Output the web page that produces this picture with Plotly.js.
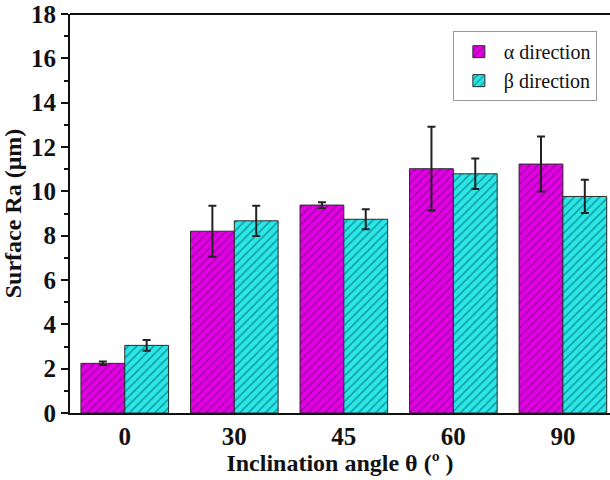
<!DOCTYPE html>
<html>
<head>
<meta charset="utf-8">
<script src="https://cdn.plot.ly/plotly-3.0.1.min.js"></script>
<style>
  html, body { margin: 0; padding: 0; background: #fff; }
  #chart { width: 610px; height: 480px; }
</style>
</head>
<body>
<div id="chart"></div>
<script>
// Inclination angles (degrees) shown as categories
const angles = ['0', '30', '45', '60', '90'];
const angleLabels = ['<b>0</b>', '<b>30</b>', '<b>45</b>', '<b>60</b>', '<b>90</b>'];

// Surface roughness Ra (µm) and standard deviations
const alphaRa  = [2.24, 8.20, 9.38, 11.02, 11.23];
const alphaErr = [0.08, 1.15, 0.13, 1.89, 1.24];
const betaRa   = [3.05, 8.67, 8.74, 10.79, 9.77];
const betaErr  = [0.24, 0.68, 0.45, 0.69, 0.75];

// y-axis ticks
const yTicks = [0, 2, 4, 6, 8, 10, 12, 14, 16, 18];
const yTickLabels = yTicks.map(v => '<b>' + v + '</b>');
const yMinor = [1, 3, 5, 7, 9, 11, 13, 15, 17];

const serif = 'Liberation Serif';

function series(name, y, err, fill, line) {
  return {
    type: 'bar',
    name: name,
    x: angles,
    y: y,
    error_y: { type: 'data', array: err, visible: true, color: '#222', thickness: 2, width: 4 },
    marker: {
      color: fill,
      line: { color: '#2a2a2a', width: 1 },
      pattern: { shape: '/', bgcolor: fill, fgcolor: line, size: 6, solidity: 0.25 }
    }
  };
}

const data = [
  series('α direction', alphaRa, alphaErr, '#e400e4', '#a000a8'),
  series('β direction', betaRa, betaErr, '#2ee6e6', '#0a9aa0')
];

const layout = {
  width: 610,
  height: 480,
  margin: { l: 70, r: 0, t: 14, b: 67 },
  paper_bgcolor: '#fff',
  plot_bgcolor: '#fff',
  barmode: 'group',
  bargap: 0.2,
  bargroupgap: 0,
  showlegend: true,
  font: { family: serif, color: '#111', size: 20 },
  legend: {
    x: 0.709, y: 0.957, xanchor: 'left', yanchor: 'top',
    bgcolor: '#fff', bordercolor: '#999', borderwidth: 1,
    font: { family: serif, size: 20, color: '#111' },
    itemwidth: 40,
    tracegroupgap: 0
  },
  xaxis: {
    type: 'category',
    range: [-0.5, 4.43],
    tickvals: angles,
    ticktext: angleLabels,
    showline: true, linecolor: '#111', linewidth: 2,
    mirror: false,
    ticks: '',
    tickfont: { family: serif, size: 25, color: '#111' },
    title: { text: '<b>Inclination angle θ (º )</b>', font: { family: serif, size: 24, color: '#111' }, standoff: 3 },
    showgrid: false,
    zeroline: false
  },
  yaxis: {
    range: [0, 18],
    tickvals: yTicks,
    ticktext: yTickLabels,
    showline: true, linecolor: '#111', linewidth: 2,
    mirror: false,
    ticks: 'outside', ticklen: 7, tickwidth: 2, tickcolor: '#111',
    minor: { tickvals: yMinor, ticks: 'outside', ticklen: 4, tickwidth: 2, tickcolor: '#111' },
    tickfont: { family: serif, size: 25, color: '#111' },
    title: { text: '<b>Surface Ra (μm)</b>', font: { family: serif, size: 24, color: '#111' }, standoff: 4 },
    showgrid: false,
    zeroline: false
  },
  shapes: [
    // top frame line
    { type: 'line', xref: 'paper', yref: 'paper', x0: 0, x1: 1, y0: 1, y1: 1, line: { color: '#111', width: 2 } }
  ]
};

Plotly.newPlot('chart', data, layout, { staticPlot: true, displayModeBar: false });
</script>
</body>
</html>
